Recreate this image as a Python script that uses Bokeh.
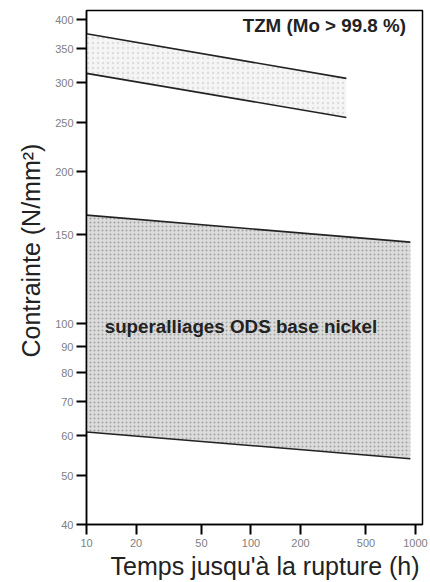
from bokeh.plotting import figure
from bokeh.models import Range1d, FixedTicker, NumeralTickFormatter, Label, Title
from bokeh.embed import file_html
from bokeh.resources import INLINE

# data
tzm_t = [10, 380]
tzm_upper = [375, 306]
tzm_lower = [313, 256]
ods_t = [10, 930]
ods_upper = [164, 145]
ods_lower = [61, 54]
x_ticks = [10, 20, 50, 100, 200, 500, 1000]
y_ticks = [40, 50, 60, 70, 80, 90, 100, 150, 200, 250, 300, 350, 400]

p = figure(width=430, height=582, x_axis_type="log", y_axis_type="log",
           x_range=Range1d(10, 1103), y_range=Range1d(40, 417),
           output_backend="svg", toolbar_location=None,
           min_border_left=86, min_border_right=8, min_border_top=10, min_border_bottom=58)
p.grid.visible = False
p.outline_line_color = "black"
p.outline_line_width = 1.5
p.background_fill_color = "white"

# bands
p.varea(x=tzm_t, y1=tzm_lower, y2=tzm_upper, fill_color="#f5f5f5",
        hatch_pattern="dot", hatch_color="#dddddd", hatch_scale=5, hatch_weight=1)
p.varea(x=ods_t, y1=ods_lower, y2=ods_upper, fill_color="#dcdcdc",
        hatch_pattern="dot", hatch_color="#a0a0a0", hatch_scale=4, hatch_weight=1)
for y in (tzm_upper, tzm_lower):
    p.line(tzm_t, y, line_color="#222222", line_width=1.6)
for y in (ods_upper, ods_lower):
    p.line(ods_t, y, line_color="#222222", line_width=1.6)

p.add_layout(Label(x=89, y=389, text="TZM (Mo > 99.8 %)", text_font="Liberation Sans",
                   text_font_style="bold", text_font_size="18.8px", text_baseline="middle",
                   text_color="#222222"))
p.add_layout(Label(x=12.9, y=98.5, text="superalliages ODS base nickel", text_font="Liberation Sans",
                   text_font_style="bold", text_font_size="18.8px", text_baseline="middle",
                   text_color="#222222"))

p.xaxis.ticker = FixedTicker(ticks=x_ticks)
p.yaxis.ticker = FixedTicker(ticks=y_ticks)
p.xaxis.formatter = NumeralTickFormatter(format="0")
p.yaxis.formatter = NumeralTickFormatter(format="0")
p.axis.axis_line_color = "black"
p.axis.axis_line_width = 1.5
p.axis.major_tick_line_color = "black"
p.axis.major_tick_line_width = 2
p.axis.major_tick_out = 10
p.axis.major_tick_in = 0
p.axis.major_label_text_font = "Liberation Sans"
p.axis.major_label_text_font_size = "11px"
p.axis.major_label_text_color = "#808080"
p.xaxis.major_label_standoff = 4
p.yaxis.major_label_standoff = 3

# axis titles
p.add_layout(Title(text="Temps jusqu'à la rupture (h)", align="left", offset=24,
                   text_font="Liberation Sans", text_font_style="normal",
                   text_font_size="25px", text_color="#222222", standoff=0), "below")
p.add_layout(Title(text="Contrainte (N/mm²)", align="left", offset=167,
                   text_font="Liberation Sans", text_font_style="normal",
                   text_font_size="25px", text_color="#222222", standoff=15), "left")

open("out.html", "w").write(file_html(p, INLINE))
